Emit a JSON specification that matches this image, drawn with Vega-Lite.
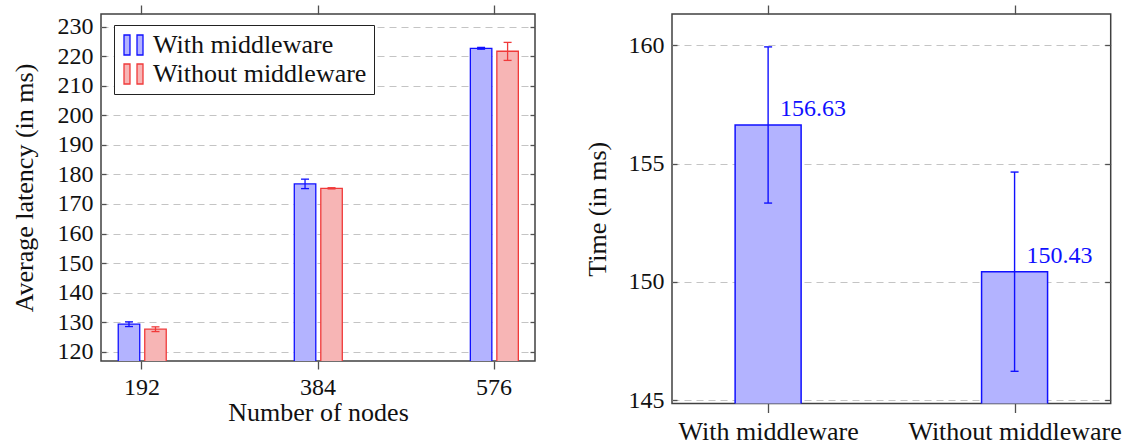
{
  "$schema": "https://vega.github.io/schema/vega-lite/v6.json",
  "background": "white",
  "padding": {"left": 10, "top": 3, "right": 2, "bottom": 0},
  "spacing": 46,
  "datasets": {
    "lat": [
      {"nodes": 192, "series": "With middleware", "mean": 129.3, "lo": 128.5, "hi": 130.1},
      {"nodes": 192, "series": "Without middleware", "mean": 127.6, "lo": 126.8, "hi": 128.4},
      {"nodes": 384, "series": "With middleware", "mean": 176.8, "lo": 175.2, "hi": 178.4},
      {"nodes": 384, "series": "Without middleware", "mean": 175.3, "lo": 175.1, "hi": 175.5},
      {"nodes": 576, "series": "With middleware", "mean": 222.7, "lo": 222.4, "hi": 223.0},
      {"nodes": 576, "series": "Without middleware", "mean": 221.7, "lo": 218.6, "hi": 224.7}
    ],
    "time": [
      {"cond": "With middleware", "mean": 156.63, "lo": 153.33, "hi": 159.93},
      {"cond": "Without middleware", "mean": 150.43, "lo": 146.22, "hi": 154.64}
    ]
  },
  "hconcat": [
    {
      "width": 434,
      "height": 347,
      "data": {"name": "lat"},
      "resolve": {"axis": {"x": "independent", "y": "independent"}},
      "layer": [
        {
          "transform": [{"filter": "datum.series === 'With middleware'"}],
          "mark": {"type": "bar", "width": 21.5, "xOffset": -12.5, "strokeWidth": 1.3, "clip": true},
          "encoding": {
            "x": {"field": "nodes", "type": "quantitative",
                  "scale": {"domain": [153.3, 615.7], "nice": false, "zero": false},
                  "axis": {"orient": "bottom", "values": [192, 384, 576], "format": "d", "grid": false, "domain": false,
                           "tickSize": 8, "labelPadding": 6, "labelFontSize": 24, "title": "Number of nodes", "titleFontSize": 26, "titlePadding": 0}},
            "y": {"field": "mean", "type": "quantitative",
                  "scale": {"domain": [116.84, 234.31], "nice": false, "zero": false},
                  "axis": {"orient": "left", "values": [120, 130, 140, 150, 160, 170, 180, 190, 200, 210, 220, 230], "grid": true, "domain": false,
                           "tickSize": -5, "labelPadding": 13, "labelFontSize": 24, "title": "Average latency (in ms)", "titleFontSize": 26, "titlePadding": 20}},
            "fill": {"field": "series", "type": "nominal",
                     "scale": {"domain": ["With middleware", "Without middleware"], "range": ["#b3b3ff", "#f7b5b5"]},
                     "legend": {"orient": "none", "legendX": 13, "legendY": 11, "title": null,
                                "symbolType": "M-1,-1H-0.4V1H-1Z M0.3,-1H0.9V1H0.3Z", "symbolSize": 400, "symbolStrokeWidth": 1.3,
                                "labelFontSize": 26, "labelFont": "Liberation Serif", "labelColor": "#111", "labelOffset": 6, "labelLimit": 0,
                                "strokeColor": "#222", "fillColor": "white", "padding": 7, "rowPadding": 3}},
            "stroke": {"field": "series", "type": "nominal",
                       "scale": {"domain": ["With middleware", "Without middleware"], "range": ["#1010ff", "#f03a3a"]},
                       "legend": {"orient": "none", "legendX": 13, "legendY": 11, "title": null,
                                  "symbolType": "M-1,-1H-0.4V1H-1Z M0.3,-1H0.9V1H0.3Z", "symbolSize": 400, "symbolStrokeWidth": 1.3,
                                  "labelFontSize": 26, "labelFont": "Liberation Serif", "labelColor": "#111", "labelOffset": 6, "labelLimit": 0,
                                  "strokeColor": "#222", "fillColor": "white", "padding": 7, "rowPadding": 3}}
          }
        },
        {
          "transform": [{"filter": "datum.series === 'Without middleware'"}],
          "mark": {"type": "bar", "width": 21.5, "xOffset": 14, "strokeWidth": 1.3, "clip": true},
          "encoding": {
            "x": {"field": "nodes", "type": "quantitative", "axis": null},
            "y": {"field": "mean", "type": "quantitative", "axis": null},
            "fill": {"field": "series", "type": "nominal"},
            "stroke": {"field": "series", "type": "nominal"}
          }
        },
        {
          "transform": [{"filter": "datum.series === 'With middleware'"}],
          "mark": {"type": "rule", "xOffset": -12.5, "color": "#1010ff", "strokeWidth": 1.3},
          "encoding": {
            "x": {"field": "nodes", "type": "quantitative", "axis": null},
            "y": {"field": "lo", "type": "quantitative", "axis": null},
            "y2": {"field": "hi"}
          }
        },
        {
          "transform": [{"filter": "datum.series === 'With middleware'"}],
          "mark": {"type": "tick", "orient": "horizontal", "size": 8, "thickness": 1.3, "xOffset": -12.5, "color": "#1010ff", "opacity": 1},
          "encoding": {
            "x": {"field": "nodes", "type": "quantitative", "axis": null},
            "y": {"field": "lo", "type": "quantitative", "axis": null}
          }
        },
        {
          "transform": [{"filter": "datum.series === 'With middleware'"}],
          "mark": {"type": "tick", "orient": "horizontal", "size": 8, "thickness": 1.3, "xOffset": -12.5, "color": "#1010ff", "opacity": 1},
          "encoding": {
            "x": {"field": "nodes", "type": "quantitative", "axis": null},
            "y": {"field": "hi", "type": "quantitative", "axis": null}
          }
        },
        {
          "transform": [{"filter": "datum.series === 'Without middleware'"}],
          "mark": {"type": "rule", "xOffset": 14, "color": "#f03a3a", "strokeWidth": 1.3},
          "encoding": {
            "x": {"field": "nodes", "type": "quantitative", "axis": null},
            "y": {"field": "lo", "type": "quantitative", "axis": null},
            "y2": {"field": "hi"}
          }
        },
        {
          "transform": [{"filter": "datum.series === 'Without middleware'"}],
          "mark": {"type": "tick", "orient": "horizontal", "size": 8, "thickness": 1.3, "xOffset": 14, "color": "#f03a3a", "opacity": 1},
          "encoding": {
            "x": {"field": "nodes", "type": "quantitative", "axis": null},
            "y": {"field": "lo", "type": "quantitative", "axis": null}
          }
        },
        {
          "transform": [{"filter": "datum.series === 'Without middleware'"}],
          "mark": {"type": "tick", "orient": "horizontal", "size": 8, "thickness": 1.3, "xOffset": 14, "color": "#f03a3a", "opacity": 1},
          "encoding": {
            "x": {"field": "nodes", "type": "quantitative", "axis": null},
            "y": {"field": "hi", "type": "quantitative", "axis": null}
          }
        },
        {
          "mark": {"type": "point", "opacity": 0},
          "encoding": {
            "x": {"field": "nodes", "type": "quantitative",
                  "axis": {"orient": "top", "values": [192, 384, 576], "labels": false, "grid": false, "domain": false, "tickSize": 9, "title": null}},
            "y": {"field": "mean", "type": "quantitative",
                  "axis": {"orient": "right", "values": [120, 130, 140, 150, 160, 170, 180, 190, 200, 210, 220, 230], "labels": false, "grid": false, "domain": false, "tickSize": -5, "title": null}}
          }
        }
      ]
    },
    {
      "width": 438.7,
      "height": 389.5,
      "data": {"name": "time"},
      "resolve": {"axis": {"x": "independent", "y": "independent"}},
      "layer": [
        {
          "mark": {"type": "bar", "width": 66, "fill": "#b3b3ff", "stroke": "#1010ff", "strokeWidth": 1.5, "clip": true},
          "encoding": {
            "x": {"field": "cond", "type": "nominal", "sort": null,
                  "scale": {"type": "point", "padding": 0.39},
                  "axis": {"orient": "bottom", "labelAngle": 0, "grid": false, "domain": false, "tickSize": 9, "labelPadding": 6,
                           "labelFontSize": 26, "labelLimit": 0, "title": null}},
            "y": {"field": "mean", "type": "quantitative",
                  "scale": {"domain": [144.86, 161.32], "nice": false, "zero": false},
                  "axis": {"orient": "left", "values": [145, 150, 155, 160], "grid": true, "domain": false,
                           "tickSize": -5, "labelPadding": 13, "labelFontSize": 24, "title": "Time (in ms)", "titleFontSize": 26, "titlePadding": 18}}
          }
        },
        {
          "mark": {"type": "rule", "color": "#1010ff", "strokeWidth": 1.4},
          "encoding": {
            "x": {"field": "cond", "type": "nominal", "sort": null, "axis": null},
            "y": {"field": "lo", "type": "quantitative", "axis": null},
            "y2": {"field": "hi"}
          }
        },
        {
          "mark": {"type": "tick", "orient": "horizontal", "size": 8, "thickness": 1.4, "color": "#1010ff", "opacity": 1},
          "encoding": {
            "x": {"field": "cond", "type": "nominal", "sort": null, "axis": null},
            "y": {"field": "lo", "type": "quantitative", "axis": null}
          }
        },
        {
          "mark": {"type": "tick", "orient": "horizontal", "size": 8, "thickness": 1.4, "color": "#1010ff", "opacity": 1},
          "encoding": {
            "x": {"field": "cond", "type": "nominal", "sort": null, "axis": null},
            "y": {"field": "hi", "type": "quantitative", "axis": null}
          }
        },
        {
          "mark": {"type": "text", "align": "left", "baseline": "alphabetic", "dx": 12, "dy": -9, "fontSize": 24, "color": "#1010ff"},
          "encoding": {
            "x": {"field": "cond", "type": "nominal", "sort": null, "axis": null},
            "y": {"field": "mean", "type": "quantitative", "axis": null},
            "text": {"field": "mean", "type": "quantitative", "format": ".2f"}
          }
        },
        {
          "mark": {"type": "point", "opacity": 0},
          "encoding": {
            "x": {"field": "cond", "type": "nominal", "sort": null,
                  "axis": {"orient": "top", "labels": false, "grid": false, "domain": false, "tickSize": 9, "title": null}},
            "y": {"field": "mean", "type": "quantitative",
                  "axis": {"orient": "right", "values": [145, 150, 155, 160], "labels": false, "grid": false, "domain": false, "tickSize": -6, "title": null}}
          }
        }
      ]
    }
  ],
  "config": {
    "font": "Liberation Serif",
    "view": {"stroke": "#404040", "strokeWidth": 1.5},
    "axis": {
      "labelFont": "Liberation Serif",
      "titleFont": "Liberation Serif",
      "labelColor": "#111",
      "titleColor": "#111",
      "titleFontWeight": "normal",
      "tickColor": "#505050",
      "tickWidth": 1.3,
      "gridColor": "#c4c4c4",
      "gridDash": [7, 5],
      "gridWidth": 1.2
    },
    "legend": {"labelFont": "Liberation Serif"}
  }
}
